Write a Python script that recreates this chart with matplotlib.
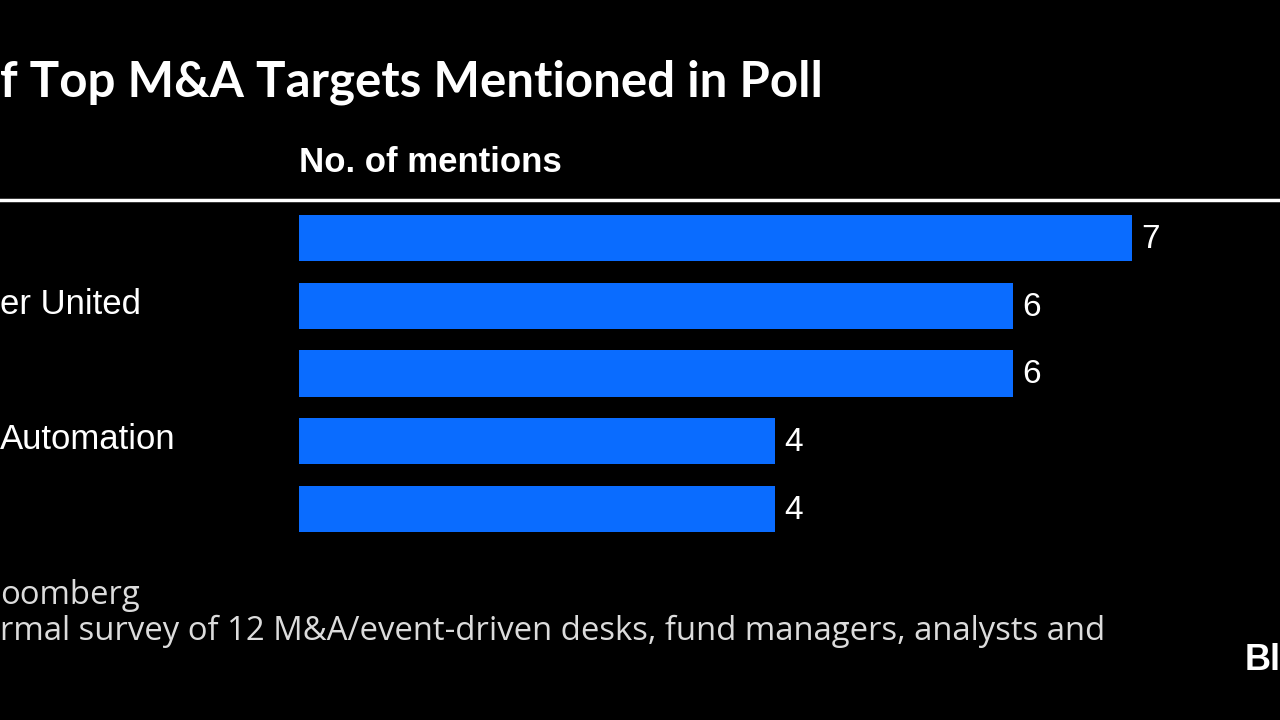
import matplotlib.pyplot as plt
from matplotlib.lines import Line2D
import matplotlib.transforms as mtransforms

# visible parts of the cropped chart
labels = ["", "er United", "", "Automation", ""]
mentions = [7, 6, 6, 4, 4]
title = "f Top M&A Targets Mentioned in Poll"
subtitle = "No. of mentions"
source = "oomberg"
note = "rmal survey of 12 M&A/event-driven desks, fund managers, analysts and"
logo = "Bl"

W, H = 1280, 720
fig = plt.figure(figsize=(12.8, 7.2), dpi=100, facecolor="black")

def fx(px):
    return px / W

def fy(py):
    return 1 - py / H

# axes: bars start at x=299, 119 px per mention
ax = fig.add_axes([fx(299), fy(543), fx(W - 299), (543 - 204) / H])
ax.set_facecolor("black")
ax.set_xlim(0, (W - 299) / 119)
ax.set_ylim(len(mentions) - 0.5, -0.5)
ax.axis("off")

ypos = list(range(len(mentions)))
ax.barh(ypos, mentions, height=0.68, color="#0a6cff")

for y, v in zip(ypos, mentions):
    ax.text(v + 0.08, y + 0.02, str(v), color="white", fontsize=24,
            family="Liberation Sans", va="center", ha="left")

trans = mtransforms.blended_transform_factory(fig.transFigure, ax.transData)
for y, lab in zip(ypos, labels):
    if lab:
        ax.text(0.0, y - 0.02, lab, transform=trans, color="white", fontsize=25,
                family="Liberation Sans", va="center", ha="left")

fig.text(fx(0), fy(82), title, color="white", fontsize=35.5, fontweight="bold",
         family="Lato", va="center", ha="left")
fig.text(fx(299), fy(162), subtitle, color="white", fontsize=25,
         fontweight="bold", family="Liberation Sans", va="center", ha="left")

fig.add_artist(Line2D([0, 1], [fy(200), fy(200)], color="white", lw=2.5,
                      transform=fig.transFigure))

fig.text(fx(0), fy(595), source, color="#dcdcdc", fontsize=23.7,
         family="Open Sans", va="center", ha="left")
fig.text(fx(0), fy(631), note, color="#dcdcdc", fontsize=23.7,
         family="Open Sans", va="center", ha="left")
fig.text(fx(1245), fy(660), logo, color="white", fontsize=26,
         fontweight="bold", family="Liberation Sans", va="center", ha="left")

fig.savefig("out.png", dpi=100, facecolor="black")
